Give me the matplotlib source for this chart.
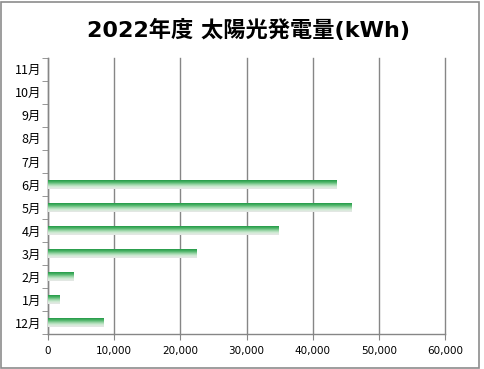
import matplotlib
matplotlib.use("Agg")
import matplotlib.pyplot as plt
import numpy as np
from matplotlib.colors import LinearSegmentedColormap
from matplotlib.patches import Rectangle
from matplotlib.ticker import FuncFormatter, MultipleLocator

plt.rcParams['font.family'] = ['Noto Sans CJK JP', 'DejaVu Sans']

# 月別データ (下から上)
months = ["12月", "1月", "2月", "3月", "4月", "5月", "6月",
          "7月", "8月", "9月", "10月", "11月"]
kwh = [8420, 1810, 3780, 22470, 34910, 45900, 43630,
       0, 0, 0, 0, 0]
x_ticks = [0, 10000, 20000, 30000, 40000, 50000, 60000]

# top dark green -> pale at bottom
grad = LinearSegmentedColormap.from_list(
    "bar", ["#e6e6e6", "#d4ecd8", "#9ad5a7", "#4fb56a", "#239a47"])
img = np.linspace(0, 1, 64).reshape(-1, 1)

fig = plt.figure(figsize=(4.85, 3.69), dpi=100)
# chart area border (right edge sits a few px inside the image)
fig.patches.append(Rectangle((1.5 / 485, 1.5 / 369), 477.5 / 485, 366 / 369,
                             transform=fig.transFigure, fill=False,
                             edgecolor="#8c8c8c", linewidth=1.2))
ax = fig.add_axes([0.099, 0.095, 0.8185, 0.748])

h = 0.39
for i, v in enumerate(kwh):
    if v <= 0:
        continue
    ax.imshow(img, cmap=grad, aspect="auto", origin="lower",
              extent=[0, v, i - h / 2, i + h / 2], zorder=3, interpolation="bilinear")

ax.set_xlim(x_ticks[0], x_ticks[-1])
ax.set_ylim(-0.5, len(months) - 0.5)
ax.set_xticks(x_ticks)
ax.xaxis.set_major_formatter(FuncFormatter(lambda v, p: f"{int(v):,}"))
ax.set_yticks(range(len(months)))
ax.set_yticklabels(months, fontsize=9)
ax.yaxis.set_minor_locator(MultipleLocator(1, offset=0.5))
ax.tick_params(axis="y", which="major", length=0, pad=5)
ax.tick_params(axis="y", which="minor", length=4, color="#868686", direction="out")
ax.tick_params(axis="x", length=4, color="#868686", labelsize=7.5, pad=5)
for lab in ax.get_xticklabels():
    lab.set_family(["DejaVu Sans"])

ax.grid(axis="x", color="#868686", linewidth=1)
for gl in ax.get_xgridlines():
    gl.set_clip_on(False)
ax.set_axisbelow(True)
for s in ["top", "right"]:
    ax.spines[s].set_visible(False)
for s in ["left", "bottom"]:
    ax.spines[s].set_color("#868686")
    ax.spines[s].set_linewidth(1)

fig.text(0.512, 0.918, "2022年度 太陽光発電量(kWh)", ha="center", va="center",
         fontsize=16, fontweight="bold", family=["DejaVu Sans", "Noto Sans CJK JP"])

fig.savefig("out.png", dpi=100)
